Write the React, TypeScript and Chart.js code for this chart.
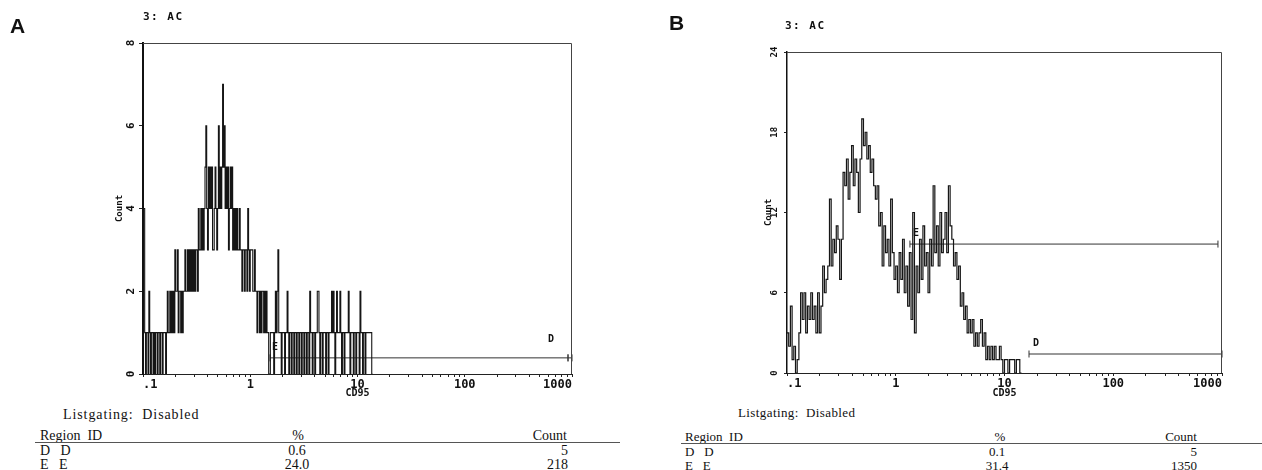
import React, { useEffect, useRef } from 'react';
import { Chart, registerables } from 'chart.js';

Chart.register(...registerables);

// ---------- data ----------
const X_MIN = 0.1;
const X_MAX = 1000;
const CHANNELS_PER_DECADE_A = 128; // 512 display channels over 4 decades
const CHANNELS_PER_DECADE_B = 64; // 256 display channels over 4 decades

const xMajorValues = [0.1, 1, 10, 100, 1000];
const xMajorLabels = ['.1', '1', '10', '100', '1000'];
const xTickValues = [
  0.1, 0.2, 0.3, 0.4, 0.5, 0.6, 0.7, 0.8, 0.9,
  1, 2, 3, 4, 5, 6, 7, 8, 9,
  10, 20, 30, 40, 50, 60, 70, 80, 90,
  100, 200, 300, 400, 500, 600, 700, 800, 900,
  1000,
];

const yTicksA = [0, 2, 4, 6, 8];
const yTicksB = [0, 6, 12, 18, 24];

// Panel A: counts per display channel (starting at 0.1)
const countsA = [
  4, 4, 1, 0, 1, 1, 0, 2, 1, 0,
  1, 1, 0, 1, 0, 1, 1, 0, 1, 1,
  0, 1, 1, 0, 1, 1, 1, 0, 1, 2,
  1, 1, 2, 1, 2, 1, 2, 1, 3, 2,
  2, 3, 1, 2, 2, 1, 2, 1, 2, 2,
  3, 2, 2, 3, 2, 3, 2, 3, 2, 3,
  2, 3, 2, 3, 3, 2, 4, 3, 3, 4,
  3, 4, 3, 4, 5, 6, 4, 3, 5, 4,
  5, 4, 5, 3, 3, 4, 5, 4, 3, 4,
  6, 4, 5, 4, 5, 7, 5, 6, 4, 5,
  4, 5, 3, 4, 5, 4, 5, 3, 4, 3,
  4, 3, 4, 3, 3, 4, 3, 3, 2, 3,
  3, 2, 3, 3, 2, 4, 3, 2, 3, 3,
  3, 2, 2, 3, 2, 2, 1, 2, 2, 1,
  2, 1, 2, 2, 1, 2, 1, 2, 1, 1,
  0, 0, 1, 1, 1, 1, 0, 1, 2, 1,
  2, 3, 1, 1, 1, 0, 1, 1, 1, 0,
  1, 1, 2, 1, 0, 1, 1, 0, 1, 1,
  0, 1, 1, 0, 1, 1, 0, 1, 1, 0,
  1, 1, 0, 1, 1, 0, 1, 1, 0, 2,
  1, 1, 0, 1, 1, 0, 1, 1, 2, 2,
  1, 0, 1, 1, 0, 1, 1, 1, 0, 1,
  1, 0, 1, 1, 1, 2, 1, 2, 1, 0,
  1, 2, 1, 1, 1, 2, 1, 0, 1, 1,
  0, 1, 1, 1, 1, 2, 1, 0, 1, 1,
  1, 0, 1, 1, 0, 1, 1, 1, 0, 2,
  1, 1, 0, 1, 1, 0, 1, 1, 1, 1,
  1, 1, 1, 0,
];

// Panel B: counts per display channel (starting at 0.1)
const countsB = [
  3, 2, 5, 1, 2, 0, 1, 3, 6, 4,
  6, 3, 5, 4, 6, 4, 5, 3, 6, 3,
  5, 8, 6, 7, 8, 13, 8, 10, 9, 11,
  10, 7, 10, 15, 14, 16, 13, 15, 17, 14,
  16, 15, 12, 16, 19, 17, 18, 16, 17, 15,
  16, 14, 13, 14, 11, 12, 8, 11, 9, 10,
  8, 13, 9, 7, 8, 6, 9, 7, 10, 6,
  8, 5, 9, 4, 12, 3, 8, 6, 10, 7,
  11, 8, 9, 6, 10, 8, 14, 9, 11, 8,
  12, 9, 10, 12, 9, 14, 11, 10, 8, 9,
  7, 8, 5, 6, 4, 5, 3, 4, 3, 4,
  2, 3, 2, 3, 4, 2, 3, 1, 2, 1,
  2, 1, 2, 1, 1, 2, 1, 0, 1, 1,
  0, 1, 1, 1, 0, 1, 1, 0,
];

// Regions (markers) : id, start, end, level
const regionIdsA = ['E', 'D'];
const regionFromA = [1.53, 918];
const regionToA = [918, 1000];
const regionLevelA = [0.39, 0.39];

const regionIdsB = ['E', 'D'];
const regionFromB = [1.35, 16.8];
const regionToB = [918, 1000];
const regionLevelB = [9.64, 1.42];

// Statistics tables
const tableRegionsA = ['D   D', 'E   E'];
const tablePercentA = ['0.6', '24.0'];
const tableCountA = ['5', '218'];
const tableRegionsB = ['D   D', 'E   E'];
const tablePercentB = ['0.1', '31.4'];
const tableCountB = ['5', '1350'];

// ---------- helpers ----------
const MONO = "'DejaVu Sans Mono', 'Liberation Mono', monospace";
const SERIF = "'Liberation Serif', 'DejaVu Serif', serif";
const SANS = "'Liberation Sans', Arial, sans-serif";

const histPoints = (counts: number[], perDecade: number) => {
  const edge = (i: number) => X_MIN * Math.pow(10, i / perDecade);
  return [
    ...counts.map((c, i) => ({ x: edge(i), y: c })),
    { x: edge(counts.length), y: 0 },
  ];
};

const regionLabelPlugin = {
  id: 'regionLabels',
  afterDatasetsDraw(chart: any) {
    const ctx = chart.ctx;
    chart.data.datasets.forEach((ds: any, i: number) => {
      if (!ds.regionLabel) return;
      const meta = chart.getDatasetMeta(i);
      const p = meta.data[0];
      if (!p) return;
      ctx.save();
      ctx.font = `bold 10px ${MONO}`;
      ctx.fillStyle = '#111';
      ctx.textAlign = 'left';
      ctx.textBaseline = 'bottom';
      ctx.fillText(ds.regionLabel, p.x + ds.labelDx, p.y + ds.labelDy);
      ctx.restore();
    });
  },
};

const framePlugin = {
  id: 'frame',
  afterDraw(chart: any, _args: any, opts: any) {
    const { ctx, chartArea } = chart;
    ctx.save();
    ctx.strokeStyle = opts.color || '#333';
    ctx.lineWidth = opts.width || 1;
    ctx.beginPath();
    ctx.moveTo(chartArea.left, chartArea.top + 0.5);
    ctx.lineTo(chartArea.right - 0.5, chartArea.top + 0.5);
    ctx.lineTo(chartArea.right - 0.5, chartArea.bottom);
    ctx.stroke();
    ctx.restore();
  },
};

type PanelCfg = {
  counts: number[];
  perDecade: number;
  lineWidth: number;
  yTicks: number[];
  regionIds: string[];
  regionFrom: number[];
  regionTo: number[];
  regionLevel: number[];
  labelDx: number[];
  labelDy: number[];
  padLeft: number;
  padTop: number;
  padRight: number;
  padBottom: number;
  yWidth: number;
  xHeight: number;
  yTickFont: number;
  yTickLength: number;
  yTickPad: number;
  yBorder: number;
  titleFont: number;
};

function buildConfig(p: PanelCfg): any {
  const regionSets = p.regionIds.map((id, i) => ({
    type: 'line',
    data: [
      { x: p.regionFrom[i], y: p.regionLevel[i] },
      { x: p.regionTo[i], y: p.regionLevel[i] },
    ],
    borderColor: '#333',
    borderWidth: 1,
    pointStyle: 'line',
    pointRotation: 90,
    pointRadius: 3.5,
    pointBorderWidth: 1,
    pointBorderColor: '#333',
    clip: false,
    regionLabel: id,
    labelDx: p.labelDx[i],
    labelDy: p.labelDy[i],
  }));
  return {
    type: 'line',
    data: {
      datasets: [
        {
          data: histPoints(p.counts, p.perDecade),
          stepped: 'before',
          borderColor: '#151515',
          borderWidth: p.lineWidth,
          pointRadius: 0,
          fill: false,
          tension: 0,
        },
        ...regionSets,
      ],
    },
    options: {
      animation: false,
      responsive: false,
      events: [],
      layout: {
        padding: { left: p.padLeft, top: p.padTop, right: p.padRight, bottom: p.padBottom },
      },
      plugins: {
        legend: { display: false },
        tooltip: { enabled: false },
        frame: { color: '#444', width: 1 },
      },
      scales: {
        x: {
          type: 'logarithmic',
          min: X_MIN,
          max: X_MAX,
          afterBuildTicks: (scale: any) => {
            scale.ticks = xTickValues.map((v) => ({ value: v }));
          },
          afterFit: (scale: any) => {
            scale.height = p.xHeight;
          },
          grid: {
            display: true,
            drawOnChartArea: false,
            drawTicks: true,
            tickLength: 3,
            color: '#222',
          },
          border: { display: true, color: '#222', width: 1 },
          ticks: {
            autoSkip: false,
            maxRotation: 0,
            minRotation: 0,
            padding: 1,
            align: 'inner',
            color: '#111',
            font: { family: MONO, size: 12, weight: 'bold' },
            callback: (value: number) => {
              const k = xMajorValues.indexOf(value);
              return k >= 0 ? xMajorLabels[k] : '';
            },
          },
          title: {
            display: true,
            text: 'CD95',
            color: '#111',
            padding: 0,
            font: { family: MONO, size: 10, weight: 'bold', lineHeight: 1 },
          },
        },
        y: {
          type: 'linear',
          min: p.yTicks[0],
          max: p.yTicks[p.yTicks.length - 1],
          afterBuildTicks: (scale: any) => {
            scale.ticks = p.yTicks.map((v) => ({ value: v }));
          },
          afterFit: (scale: any) => {
            scale.width = p.yWidth;
          },
          grid: {
            display: true,
            drawOnChartArea: false,
            drawTicks: true,
            tickLength: p.yTickLength,
            color: '#222',
          },
          border: { display: true, color: '#111', width: p.yBorder },
          ticks: {
            minRotation: 90,
            maxRotation: 90,
            crossAlign: 'center',
            padding: p.yTickPad,
            color: '#111',
            font: { family: MONO, size: p.yTickFont, weight: 'bold' },
          },
          title: {
            display: true,
            text: 'Count',
            color: '#111',
            padding: 0,
            font: { family: MONO, size: p.titleFont, weight: 'bold', lineHeight: 1 },
          },
        },
      },
    },
    plugins: [regionLabelPlugin, framePlugin],
  };
}

function HistogramCanvas({ left, width, height, cfg }: { left: number; width: number; height: number; cfg: PanelCfg }) {
  const ref = useRef<HTMLCanvasElement | null>(null);
  useEffect(() => {
    if (!ref.current) return;
    const chart = new Chart(ref.current, buildConfig(cfg));
    return () => chart.destroy();
  }, []);
  return (
    <canvas
      ref={ref}
      width={width}
      height={height}
      style={{ position: 'absolute', left, top: 0, width, height }}
    />
  );
}

function Txt(props: {
  x: number;
  cy: number;
  size: number;
  align?: 'left' | 'center' | 'right';
  family: string;
  weight?: string;
  spacing?: number;
  children: React.ReactNode;
}) {
  const { x, cy, size, align = 'left', family, weight = 'normal', spacing = 0, children } = props;
  const tx = align === 'center' ? '-50%' : align === 'right' ? '-100%' : '0';
  return (
    <div
      style={{
        position: 'absolute',
        left: x,
        top: cy - size / 2,
        fontSize: size,
        lineHeight: `${size}px`,
        fontFamily: family,
        fontWeight: weight as any,
        letterSpacing: spacing,
        whiteSpace: 'pre',
        transform: `translateX(${tx})`,
        color: '#111',
      }}
    >
      {children}
    </div>
  );
}

function Rule({ x1, x2, y }: { x1: number; x2: number; y: number }) {
  return (
    <div
      style={{ position: 'absolute', left: x1, top: y, width: x2 - x1, height: 0, borderTop: '1px solid #555' }}
    />
  );
}

const cfgA: PanelCfg = {
  counts: countsA,
  perDecade: CHANNELS_PER_DECADE_A,
  lineWidth: 1.1,
  yTicks: yTicksA,
  regionIds: regionIdsA,
  regionFrom: regionFromA,
  regionTo: regionToA,
  regionLevel: regionLevelA,
  labelDx: [2, -20],
  labelDy: [-5, -13],
  padLeft: 115,
  padTop: 43,
  padRight: 68,
  padBottom: 2,
  yWidth: 28,
  xHeight: 24,
  yTickFont: 11,
  yTickLength: 4,
  yTickPad: 5,
  yBorder: 2,
  titleFont: 9,
};

const cfgB: PanelCfg = {
  counts: countsB,
  perDecade: CHANNELS_PER_DECADE_B,
  lineWidth: 1.2,
  yTicks: yTicksB,
  regionIds: regionIdsB,
  regionFrom: regionFromB,
  regionTo: regionToB,
  regionLevel: regionLevelB,
  labelDx: [3, 4],
  labelDy: [-6, -6],
  padLeft: 124,
  padTop: 52,
  padRight: 40,
  padBottom: 2,
  yWidth: 23,
  xHeight: 25,
  yTickFont: 9,
  yTickLength: 3,
  yTickPad: 3.5,
  yBorder: 1.5,
  titleFont: 9,
};

export default function App() {
  return (
    <div style={{ position: 'absolute', left: 0, top: 0, width: 1262, height: 470, background: '#fff', overflow: 'hidden' }}>
      <HistogramCanvas left={0} width={640} height={400} cfg={cfgA} />
      <HistogramCanvas left={640} width={622} height={400} cfg={cfgB} />

      {/* Panel letters and plot titles */}
      <Txt x={10} cy={25.5} size={21} family={SANS} weight="bold">A</Txt>
      <Txt x={669} cy={22.5} size={21} family={SANS} weight="bold">B</Txt>
      <Txt x={143} cy={16.5} size={11} family={MONO} weight="bold" spacing={1.5}>3: AC</Txt>
      <Txt x={785} cy={25} size={11} family={MONO} weight="bold" spacing={1.5}>3: AC</Txt>

      {/* Panel A statistics */}
      <Txt x={63} cy={415} size={14} family={SERIF} spacing={0.9}>Listgating:  Disabled</Txt>
      <Txt x={40} cy={436} size={14} family={SERIF}>Region  ID</Txt>
      <Txt x={298} cy={436} size={14} family={SERIF} align="center">%</Txt>
      <Txt x={567} cy={436} size={14} family={SERIF} align="right">Count</Txt>
      <Rule x1={35} x2={620} y={442} />
      {tableRegionsA.map((r, i) => (
        <React.Fragment key={'a' + i}>
          <Txt x={40} cy={451 + i * 14} size={14} family={SERIF}>{r}</Txt>
          <Txt x={297} cy={451 + i * 14} size={14} family={SERIF} align="center">{tablePercentA[i]}</Txt>
          <Txt x={568} cy={451 + i * 14} size={14} family={SERIF} align="right">{tableCountA[i]}</Txt>
        </React.Fragment>
      ))}

      {/* Panel B statistics */}
      <Txt x={738} cy={412} size={13} family={SERIF} spacing={0.4}>Listgating:  Disabled</Txt>
      <Txt x={685} cy={436} size={13} family={SERIF}>Region  ID</Txt>
      <Txt x={1000} cy={436} size={13} family={SERIF} align="center">%</Txt>
      <Txt x={1197} cy={436} size={13} family={SERIF} align="right">Count</Txt>
      <Rule x1={681} x2={1262} y={443} />
      {tableRegionsB.map((r, i) => (
        <React.Fragment key={'b' + i}>
          <Txt x={685} cy={451 + i * 14} size={13} family={SERIF}>{r}</Txt>
          <Txt x={997} cy={451 + i * 14} size={13} family={SERIF} align="center">{tablePercentB[i]}</Txt>
          <Txt x={1197} cy={451 + i * 14} size={13} family={SERIF} align="right">{tableCountB[i]}</Txt>
        </React.Fragment>
      ))}
    </div>
  );
}
